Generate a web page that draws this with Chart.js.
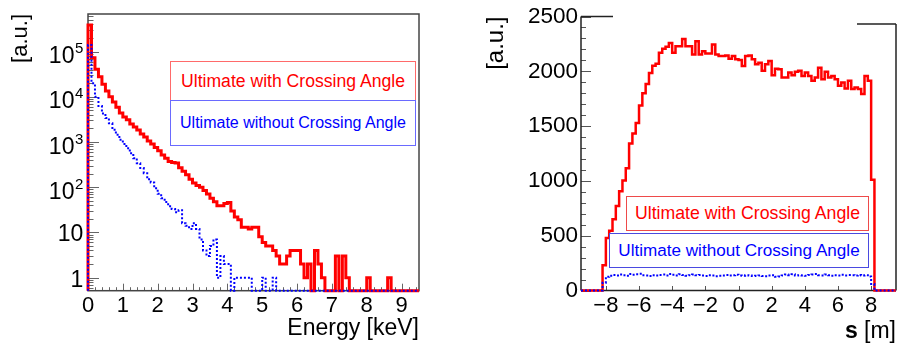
<!DOCTYPE html>
<html lang="en">
<head>
    <meta charset="UTF-8">
    <title>Energy and s distributions</title>
    <script src="https://cdn.jsdelivr.net/npm/chart.js"></script>
    <style>
        body { margin: 0; background: #fff; }
        #wrap { position: relative; width: 899px; height: 345px; }
        canvas { position: absolute; top: 0; }
        .leg {
            position: absolute; box-sizing: border-box; background: #fff;
            display: flex; align-items: center; justify-content: center;
            font-family: 'Liberation Sans', Arial, sans-serif; white-space: nowrap;
        }
    </style>
</head>
<body>
<div id="wrap">
    <canvas id="energyChart" width="450" height="345" style="left:0"></canvas>
    <canvas id="sChart" width="449" height="345" style="left:450px"></canvas>

    <div class="leg" style="left:170px;top:61px;width:246px;height:40px;border:1px solid #ff6a6a;color:#f00;font-size:17.6px">Ultimate with Crossing Angle</div>
    <div class="leg" style="left:170px;top:100px;width:246px;height:46px;border:1px solid #6a6aff;color:#00f;font-size:16px">Ultimate without Crossing Angle</div>

    <div class="leg" style="left:626px;top:196px;width:243px;height:35px;border:1px solid #ee4a4a;color:#f00;font-size:17.7px">Ultimate with Crossing Angle</div>
    <div class="leg" style="left:609px;top:233px;width:260px;height:35px;border:1px solid #4a4ae0;color:#00f;font-size:17.1px">Ultimate without Crossing Angle</div>
</div>

<script>
    // energy spectrum, 0.1 keV bins starting at 0
    const energyBinWidth = 0.1;
    const energyWithAngle = [
        390000, 73000, 41000, 28000, 19000, 13500, 10000, 7700, 5900, 4400,
        3600, 3100, 2500, 2150, 1850, 1500, 1300, 1050, 900, 760,
        640, 520, 440, 370, 355, 345, 270, 225, 190, 150,
        125, 110, 100, 85, 71, 57, 48, 39, 39, 44,
        46, 30, 22, 19, 13, 13, 12, 13, 13, 8,
        6, 5, 5, 4, 3, 2, 2, 3, 4, 4,
        4, 2, 1, 2, 0, 4, 2, 1, 0, 0,
        0, 3, 0, 3, 1, 0, 0, 0, 0, 0,
        1, 0, 0, 0, 0, 0, 1, 0, 0, 0,
        0, 0, 0, 0, 0
    ];
    const energyWithoutAngle = [
        140000, 20000, 10000, 6300, 4300, 3400, 2600, 1870, 1450, 1120,
        910, 730, 565, 440, 340, 265, 205, 150, 128, 95,
        72, 57, 47, 38, 33, 28, 31, 16, 14, 12,
        16, 12, 7, 4, 3, 5, 7, 1, 3, 2,
        2, 0, 1, 1, 1, 1, 1, 0, 0, 0,
        1, 0, 0, 1, 0, 0, 0, 0, 0, 0,
        0, 0, 0, 0, 0, 0, 0, 0, 0, 0,
        0, 0, 0, 0, 0, 0, 0, 0, 0, 0,
        0, 0, 0, 0, 0, 0, 0, 0, 0, 0,
        0, 0, 0, 0, 0
    ];
    const energyTicks = [0, 1, 2, 3, 4, 5, 6, 7, 8, 9];
    const decadeTicks = [1, 10, 100, 1000, 10000, 100000];

    // longitudinal position, 0.2 m bins from -8.2 m
    const sBinStart = -8.2;
    const sBinWidth = 0.2;
    const sWithAngle = [
        230, 480, 545, 650, 770, 905, 1003, 1116, 1342, 1432,
        1528, 1688, 1800, 1883, 1985, 2050, 2070, 2169, 2205, 2223,
        2259, 2169, 2229, 2229, 2295, 2229, 2229, 2154, 2274, 2154,
        2184, 2163, 2163, 2244, 2154, 2139, 2139, 2145, 2115, 2139,
        2109, 2103, 2049, 2139, 2145, 2109, 2064, 2079, 2004, 2064,
        2094, 1964, 2024, 2018, 1943, 1943, 1988, 1964, 1995, 2004,
        1958, 1988, 1958, 1913, 1943, 2033, 1928, 1995, 1943, 1958,
        1928, 1868, 1898, 1844, 1913, 1838, 1853, 1838, 1793, 1958,
        1913, 1010
    ];
    const sWithoutAngle = [
        70, 125, 135, 142, 138, 146, 140, 135, 150, 144,
        148, 152, 140, 138, 132, 140, 136, 142, 145, 138,
        150, 143, 137, 148, 141, 134, 140, 146, 139, 142,
        137, 133, 140, 136, 130, 134, 138, 142, 136, 140,
        144, 138, 135, 139, 136, 132, 134, 138, 133, 130,
        136, 140, 125, 128, 138, 145, 140, 148, 136, 140,
        138, 135, 142, 145, 150, 140, 138, 146, 140, 134,
        140, 137, 143, 138, 141, 139, 136, 142, 138, 140,
        128, 60
    ];
    const sTicks = [-8, -6, -4, -2, 0, 2, 4, 6, 8];
    const countTicks = [0, 500, 1000, 1500, 2000, 2500];

    const FONT = "'Liberation Sans', Arial, Helvetica, sans-serif";
    Chart.defaults.font.family = FONT;
    Chart.defaults.color = '#000';

    const logFloor = 0.515;

    // bin contents -> step points (left edges), closed down to the floor on both ends
    function histPoints(values, start, width, lo, hi, floor) {
        const pts = [{ x: lo, y: floor }];
        values.forEach((v, i) => pts.push({ x: start + i * width, y: v > 0 ? v : floor }));
        const end = start + values.length * width;
        pts.push({ x: end, y: floor });
        if (hi > end + 1e-9) pts.push({ x: hi, y: floor });
        return pts;
    }

    function line(ctx, x1, y1, x2, y2) {
        ctx.beginPath(); ctx.moveTo(x1, y1); ctx.lineTo(x2, y2); ctx.stroke();
    }

    const noGrid = { display: false, drawTicks: false };

    // ---- left: energy spectrum (log) ----
    const energyDecor = {
        id: 'energyDecor',
        beforeDatasetsDraw(chart) {
            const { ctx, chartArea: a, scales: { x, y } } = chart;
            ctx.save();
            ctx.strokeStyle = '#666';
            ctx.lineWidth = 1;
            // inward ticks on y: decades and 2..9 subdivisions
            for (let e = -1; e <= 5; e++) {
                for (let m = 1; m <= 9; m++) {
                    const v = m * Math.pow(10, e);
                    if (v < y.min || v > y.max) continue;
                    const py = Math.round(y.getPixelForValue(v)) + 0.5;
                    line(ctx, a.left, py, a.left + (m === 1 ? 11 : 5.5), py);
                }
            }
            // inward ticks on x: 1 keV major, 0.2 keV minor
            for (let i = 0; i <= 47; i++) {
                const v = i * 0.2;
                const px = Math.round(x.getPixelForValue(v)) + 0.5;
                line(ctx, px, a.bottom, px, a.bottom - (i % 5 === 0 ? 7 : 3.5));
            }
            // frame
            ctx.strokeStyle = '#444';
            ctx.lineWidth = 1.5;
            ctx.strokeRect(a.left, a.top, a.right - a.left, a.bottom - a.top);

            // decade labels with superscript exponent
            ctx.fillStyle = '#000';
            ctx.textAlign = 'right';
            ctx.textBaseline = 'alphabetic';
            decadeTicks.forEach(v => {
                const py = y.getPixelForValue(v);
                const e = Math.round(Math.log10(v));
                const rx = a.left - 4.7;
                if (e < 2) {
                    ctx.font = '23px ' + FONT;
                    ctx.fillText(String(v), rx, py + 9);
                } else {
                    ctx.font = '15px ' + FONT;
                    const w = ctx.measureText(String(e)).width;
                    ctx.fillText(String(e), rx, py + 1.6);
                    ctx.font = '23px ' + FONT;
                    ctx.fillText('10', rx - w - 0.5, py + 11.6);
                }
            });
            ctx.restore();
        }
    };

    new Chart(document.getElementById('energyChart'), {
        type: 'line',
        data: {
            datasets: [
                {
                    label: 'Ultimate without Crossing Angle',
                    data: histPoints(energyWithoutAngle, 0, energyBinWidth, 0, 9.5, logFloor),
                    borderColor: '#0000ff', borderWidth: 2, borderDash: [2, 2],
                    stepped: 'before', pointRadius: 0, clip: 4
                },
                {
                    label: 'Ultimate with Crossing Angle',
                    data: histPoints(energyWithAngle, 0, energyBinWidth, 0, 9.5, logFloor),
                    borderColor: '#ff0000', borderWidth: 3,
                    stepped: 'before', pointRadius: 0, clip: 4
                }
            ]
        },
        options: {
            responsive: false,
            animation: false,
            layout: { padding: { top: 14, right: 31, left: 0, bottom: 0 } },
            plugins: { legend: { display: false }, tooltip: { enabled: false } },
            scales: {
                x: {
                    type: 'linear', min: 0, max: 9.5,
                    grid: noGrid, border: { display: false },
                    afterBuildTicks: s => { s.ticks = energyTicks.map(v => ({ value: v })); },
                    ticks: { autoSkip: false, maxRotation: 0, padding: 2, font: { size: 22 }, callback: v => String(v) },
                    title: { display: true, text: 'Energy [keV]', align: 'end', font: { size: 23 }, padding: { top: 0, bottom: 2.2 } },
                    afterFit: s => { s.height = 54.3; }
                },
                y: {
                    type: 'logarithmic', min: logFloor, max: 6.8e5,
                    grid: noGrid, border: { display: false },
                    ticks: { display: false },
                    title: { display: true, text: '[a.u.]', align: 'end', font: { size: 22 }, padding: { top: 7.8, bottom: 0 } },
                    afterFit: s => { s.width = 88; }
                }
            }
        },
        plugins: [energyDecor]
    });

    // ---- right: distribution along s (linear) ----
    const sDecor = {
        id: 'sDecor',
        beforeDatasetsDraw(chart) {
            const { ctx, chartArea: a, scales: { x, y } } = chart;
            ctx.save();
            ctx.strokeStyle = '#555';
            ctx.lineWidth = 1;
            for (let v = 0; v <= 2500; v += 100) {
                const py = Math.round(y.getPixelForValue(v)) + 0.5;
                line(ctx, a.left, py, a.left + (v % 500 === 0 ? 10 : 5), py);
            }
            sTicks.forEach(v => {
                const px = Math.round(x.getPixelForValue(v)) + 0.5;
                line(ctx, px, a.bottom, px, a.bottom - 4.5);
            });
            // partial frame
            ctx.strokeStyle = '#222';
            ctx.lineWidth = 1.5;
            line(ctx, a.left, a.top, a.left, a.bottom);
            line(ctx, a.left, a.bottom, a.right, a.bottom);
            line(ctx, a.left, a.top, a.left + 32, a.top);
            line(ctx, a.right - 39, a.top + 7.4, a.right, a.top + 7.4);
            line(ctx, a.right, a.top + 7.4, a.right, a.bottom);

            // axis title: bold "s" followed by unit
            ctx.fillStyle = '#000';
            ctx.textBaseline = 'alphabetic';
            ctx.textAlign = 'right';
            ctx.font = '23px ' + FONT;
            const unit = ' [m]';
            const uw = ctx.measureText(unit).width;
            ctx.fillText(unit, a.right, 338);
            ctx.font = 'bold 23px ' + FONT;
            ctx.fillText('s', a.right - uw, 338);
            ctx.restore();
        }
    };

    new Chart(document.getElementById('sChart'), {
        type: 'line',
        data: {
            datasets: [
                {
                    label: 'Ultimate without Crossing Angle',
                    data: histPoints(sWithoutAngle, sBinStart, sBinWidth, -9.5, 9.5, 0),
                    borderColor: '#0000ff', borderWidth: 2, borderDash: [2, 2],
                    stepped: 'before', pointRadius: 0, clip: 4
                },
                {
                    label: 'Ultimate with Crossing Angle',
                    data: histPoints(sWithAngle, sBinStart, sBinWidth, -9.5, 9.5, 0),
                    borderColor: '#ff0000', borderWidth: 2.5,
                    stepped: 'before', pointRadius: 0, clip: 4
                }
            ]
        },
        options: {
            responsive: false,
            animation: false,
            layout: { padding: { top: 13.3, right: 3, left: 0, bottom: 0 } },
            plugins: { legend: { display: false }, tooltip: { enabled: false } },
            scales: {
                x: {
                    type: 'linear', min: -9.5, max: 9.5,
                    grid: noGrid, border: { display: false },
                    afterBuildTicks: s => { s.ticks = sTicks.map(v => ({ value: v })); },
                    ticks: {
                        autoSkip: false, maxRotation: 0, padding: 2, font: { size: 22 },
                        callback: v => String(v).replace('-', '\u2212')
                    },
                    afterFit: s => { s.height = 54.5; }
                },
                y: {
                    type: 'linear', min: 0, max: 2500,
                    grid: noGrid, border: { display: false },
                    afterBuildTicks: s => { s.ticks = countTicks.map(v => ({ value: v })); },
                    ticks: { padding: 3, font: { size: 22.5 }, callback: v => String(v) },
                    title: { display: true, text: '[a.u.]', align: 'end', font: { size: 24 }, padding: { top: 31.6, bottom: 0 } },
                    afterFit: s => { s.width = 131; }
                }
            }
        },
        plugins: [sDecor]
    });
</script>
</body>
</html>
